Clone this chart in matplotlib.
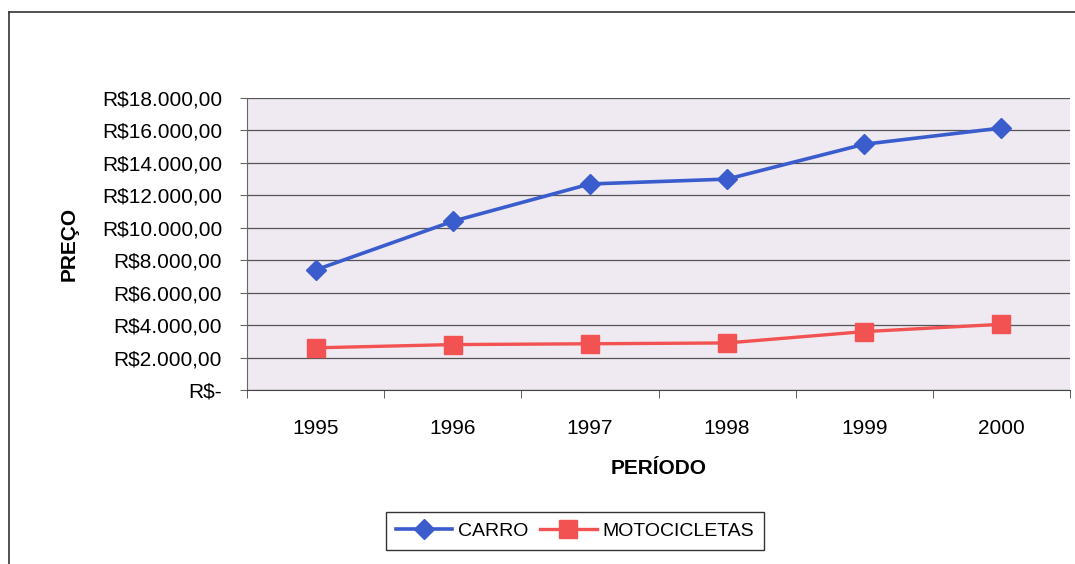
import matplotlib.pyplot as plt
from matplotlib.lines import Line2D
from matplotlib.ticker import FuncFormatter, FixedLocator

plt.rcParams['font.family'] = ['Liberation Sans', 'DejaVu Sans']

# dados
anos = ['1995', '1996', '1997', '1998', '1999', '2000']
carro = [7400, 10400, 12700, 13000, 15150, 16150]
motos = [2600, 2800, 2850, 2900, 3600, 4050]
yticks = list(range(0, 18001, 2000))


def reais(v, pos=None):
    if v == 0:
        return 'R$-'
    s = '{:,.2f}'.format(v)
    s = s.replace(',', 'X').replace('.', ',').replace('X', '.')
    return 'R$' + s


fig = plt.figure(figsize=(10.75, 5.64), dpi=100, facecolor='white')
ax = fig.add_axes([247/1075, 1-390/564, (1070-247)/1075, (390-98)/564])
ax.set_facecolor('#efe9f1')

x = list(range(len(anos)))
ax.plot(x, carro, color='#3a5ccc', lw=2.6, marker='D', ms=10.5,
        mfc='#3a5ccc', mec='#3a5ccc', label='CARRO', zorder=3)
ax.plot(x, motos, color='#f25252', lw=2.4, marker='s', ms=13,
        mfc='#f25252', mec='#f25252', label='MOTOCICLETAS', zorder=3)

ax.set_xlim(-0.5, len(anos) - 0.5)
ax.set_ylim(0, 18000)
ax.set_yticks(yticks)
ax.yaxis.set_major_formatter(FuncFormatter(reais))
ax.set_xticks(x)
ax.set_xticklabels(anos)
ax.xaxis.set_minor_locator(FixedLocator([i - 0.5 for i in range(len(anos) + 1)]))

ax.grid(axis='y', color='#555555', lw=0.9)
ax.set_axisbelow(True)
for s in ['top', 'right']:
    ax.spines[s].set_visible(False)
ax.spines['left'].set_color('#666666')
ax.spines['bottom'].set_color('#444444')

ax.tick_params(axis='y', labelsize=15, length=5, direction='out', pad=13, colors='#666666', labelcolor='black')
ax.tick_params(axis='x', which='major', labelsize=15, length=0, pad=21)
ax.tick_params(axis='x', which='minor', length=6, direction='out', color='#444444')

ax.set_ylabel('PREÇO', fontsize=15, fontweight='bold')
ax.yaxis.set_label_coords(-0.205, 0.5)
ax.set_xlabel('PERÍODO', fontsize=15, fontweight='bold')
ax.xaxis.set_label_coords(0.5, -0.235)

leg = fig.legend(loc='center', bbox_to_anchor=(575/1075, 1-531/564), ncol=2,
                 fontsize=14, frameon=True, fancybox=False, handlelength=2.9,
                 columnspacing=0.6, handletextpad=0.3, borderpad=0.5)
leg.get_frame().set_edgecolor('black')
leg.get_frame().set_linewidth(1.0)

# moldura externa
fig.add_artist(Line2D([9/1075, 9/1075], [0, 1-12/564], color='#333333', lw=1.2, transform=fig.transFigure))
fig.add_artist(Line2D([9/1075, 1], [1-12/564, 1-12/564], color='#333333', lw=1.2, transform=fig.transFigure))

fig.savefig('out.png', dpi=100, facecolor='white')
